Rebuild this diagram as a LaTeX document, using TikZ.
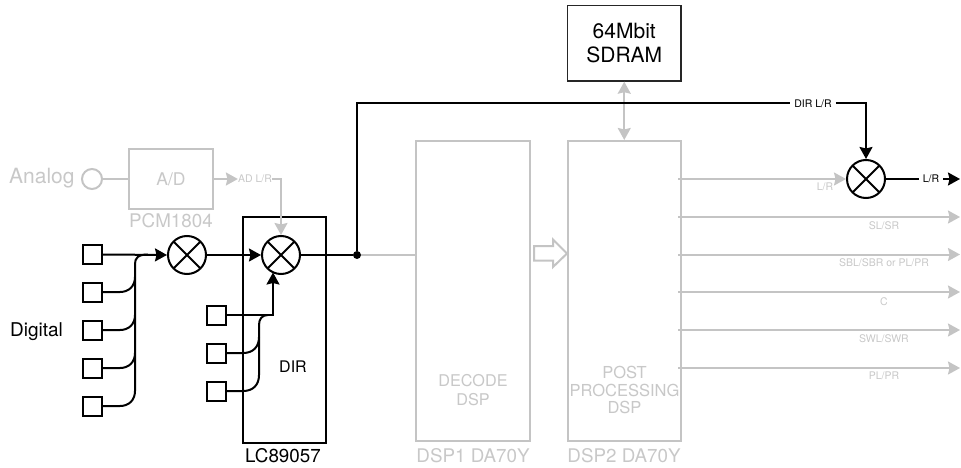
\documentclass[tikz,border=0pt]{standalone}
\usepackage{fontspec}
\setmainfont{TeX Gyre Heros}
\usetikzlibrary{arrows.meta}
\definecolor{faint}{HTML}{C4C4C4}
\definecolor{faintt}{HTML}{C8C8C8}
\newcommand{\fsz}[1]{\fontsize{#1}{#1}\selectfont}
\tikzset{
  wire/.style={line width=2pt,black},
  gwire/.style={line width=2pt,faint},
  tip/.style={-{Stealth[length=12pt,width=13pt,inset=1.5pt]}},
  gbox/.style={draw=faint,line width=2pt,inner sep=0pt,fill=white},
  bbox/.style={draw=black,line width=2pt,inner sep=0pt},
  port/.style={draw=black,line width=2pt,minimum size=19pt,inner sep=0pt,fill=white},
  mixer/.style={draw=black,line width=2pt,circle,minimum size=38pt,inner sep=0pt,fill=white,
    path picture={\draw[line width=2pt] (path picture bounding box.north west)--(path picture bounding box.south east)
      (path picture bounding box.north east)--(path picture bounding box.south west);}},
  glabel/.style={text=faintt,inner sep=0pt,font=\fsz{18.8}},
  small/.style={text=faintt,inner sep=0pt,font=\fsz{10.5}},
}
\begin{document}
\begin{tikzpicture}[x=1pt,y=-1pt]
\useasboundingbox (0,0) rectangle (961,468);
% boxes
\node[bbox,line width=1.4pt,draw=black!85,minimum width=113.5pt,minimum height=75.5pt,font=\fsz{21},align=center] (ram) at (624.25,43.25) {64Mbit\\[3pt]SDRAM};
\node[gbox,minimum width=114pt,minimum height=300pt] (d1) at (473,291) {};
\node[gbox,minimum width=113.5pt,minimum height=300pt] (d2) at (624.25,291) {};
\node[gbox,minimum width=84pt,minimum height=60pt,text=faintt,font=\fsz{17.5}] (ad) at (171,179) {A/D};
\node[glabel] (pcm) at (171,221) {PCM1804};
\node[glabel,font=\fsz{16.2},align=center] (dec) at (473,390) {DECODE\\[2pt]DSP};
\node[glabel,font=\fsz{16.5},align=center] (post) at (624.5,390) {POST\\[1pt]PROCESSING\\[1pt]DSP};
\node[glabel] (dsp1) at (473,456) {DSP1 DA70Y};
\node[glabel] (dsp2) at (624,456) {DSP2 DA70Y};
\node[glabel,font=\fsz{21},anchor=west] (analog) at (9,178) {Analog};
\node[draw=faint,line width=2pt,circle,minimum size=20pt,inner sep=0pt] (ain) at (92,179) {};
\node[small] (adlr) at (255,179) {AD L/R};
% chip box
\node[bbox,minimum width=83pt,minimum height=226pt] (chip) at (284.5,330) {};
\node[inner sep=0pt,font=\fsz{16}] (dirt) at (293,367) {DIR};
\node[inner sep=0pt,font=\fsz{18.8}] (lc) at (283,456) {LC89057};
\node[inner sep=0pt,font=\fsz{19}] (dig) at (36.5,332) {Digital};
% mixers
\node[mixer] (m1) at (187,255) {};
\node[mixer] (m2) at (281,255) {};
\node[mixer] (m3) at (866,179) {};
% ports
\node[port] (s1) at (92.5,254.5) {};
\node[port] (s2) at (92.5,292) {};
\node[port] (s3) at (92.5,330) {};
\node[port] (s4) at (92.5,368) {};
\node[port] (s5) at (92.5,406) {};
\node[port] (r1) at (216.5,315) {};
\node[port] (r2) at (216.5,353) {};
\node[port] (r3) at (216.5,391) {};
% junction
\node[circle,fill=black,minimum size=8pt,inner sep=0pt] (j) at (357,255) {};
% labels
\node[inner sep=4pt,font=\fsz{10.5}] (dirlr) at (813,103.5) {DIR L/R};
\node[inner sep=4pt,font=\fsz{10.5}] (lr) at (931,179) {L/R};
\node[small] at (825,187) {L/R};
\node[small] at (884,225.5) {SL/SR};
\node[small] at (884,263) {SBL/SBR or PL/PR};
\node[small] at (884,302) {C};
\node[small] at (884,339) {SWL/SWR};
\node[small] at (884,376) {PL/PR};
% coordinates
\coordinate (o1) at (678,179);
\coordinate (o2) at (678,217);
\coordinate (o3) at (678,254.5);
\coordinate (o4) at (678,292);
\coordinate (o5) at (678,330);
\coordinate (o6) at (678,368);
\coordinate (e2) at (960,217);
\coordinate (e3) at (960,254.5);
\coordinate (e4) at (960,292);
\coordinate (e5) at (960,330);
\coordinate (e6) at (960,368);
\coordinate (end) at (960,179);
% gray wires
\draw[gwire] (ain.east) -- (ad.west);
\draw[gwire,tip] (ad.east) -- (adlr.west);
\draw[gwire,tip] (adlr.east) -| (m2.north);
\draw[gwire] (j) -- (d1.west |- j);
\draw[gwire,{Stealth[length=12pt,width=13pt,inset=1.5pt]}-{Stealth[length=12pt,width=13pt,inset=1.5pt]}] (ram.south) -- (d2.north);
\draw[gwire,tip] (o1) -- (m3.west);
\foreach \i in {2,...,6}{\draw[gwire,tip] (o\i) -- (e\i);}
% hollow arrow
\draw[faint,line width=2pt,fill=white,miter limit=4] (534,246) -- (553,246) -- (553,239.5) -- (567,253.5) -- (553,267) -- (553,260.5) -- (534,260.5) -- cycle;
% black wires
\draw[wire,tip] (s1.east) -- (m1.west);
\draw[wire,tip] (m1.east) -- (m2.west);
\draw[wire] (m2.east) -- (j);
\draw[wire] (j) |- (dirlr.west);
\draw[wire,tip] (dirlr.east) -| (m3.north);
\draw[wire] (m3.east) -- (lr.west);
\draw[wire,tip] (lr.east) -- (end);
% left bus
\draw[wire,line join=round] (s5.east) -- (120,406) .. controls (129,406) and (135,400) .. (135,391) -- (135,264) .. controls (135,258) and (138,254.5) .. (148,254.5);
\draw[wire] (s2.east) -- (120,292) .. controls (129,292) and (135,286) .. (135,277);
\draw[wire] (s3.east) -- (120,330) .. controls (129,330) and (135,324) .. (135,315);
\draw[wire] (s4.east) -- (120,368) .. controls (129,368) and (135,362) .. (135,353);
% right bus
\draw[wire,tip] (r1.east) -- (273,315) -- (273,272.5);
\draw[wire,line join=round] (r3.east) -- (243,391) .. controls (253,391) and (259,385) .. (259,375) -- (259,325) .. controls (259,319) and (262,315) .. (268,315);
\draw[wire] (r2.east) -- (243,353) .. controls (253,353) and (259,347) .. (259,337);
\end{tikzpicture}
\end{document}
